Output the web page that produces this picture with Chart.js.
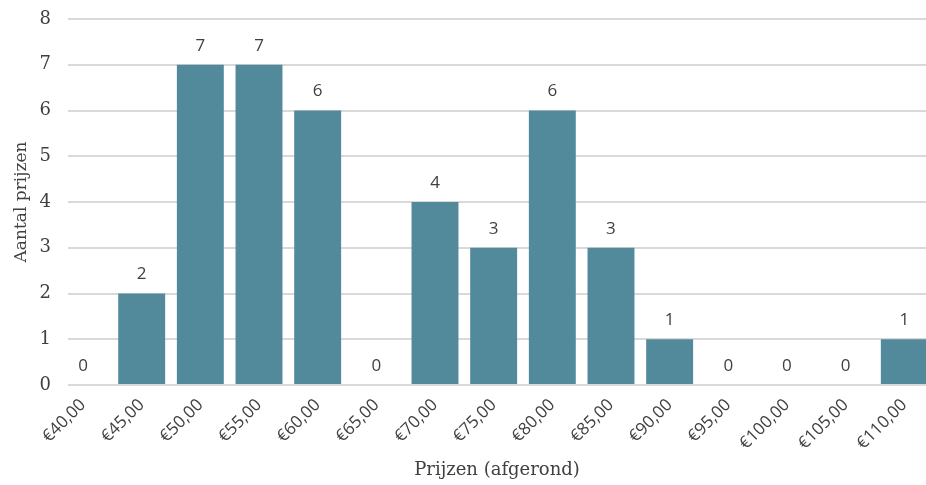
<!DOCTYPE html>
<html>
<head>
<meta charset="utf-8">
<script src="https://cdn.jsdelivr.net/npm/chart.js@4/dist/chart.umd.min.js"></script>
<style>
    html, body { margin: 0; padding: 0; background: #fff; overflow: hidden; }
    #wrap { width: 926px; height: 485px; position: relative; }
</style>
</head>
<body>
<div id="wrap"><canvas id="prices-chart"></canvas></div>
<script>
const priceLabels = ['€40,00', '€45,00', '€50,00', '€55,00', '€60,00', '€65,00', '€70,00', '€75,00',
    '€80,00', '€85,00', '€90,00', '€95,00', '€100,00', '€105,00', '€110,00'];
const priceCounts = [0, 2, 7, 7, 6, 0, 4, 3, 6, 3, 1, 0, 0, 0, 1];
const yTicks = [0, 1, 2, 3, 4, 5, 6, 7, 8];

const barColor = '#528a9b';
const gridColor = '#d9d9d9';
const textColor = '#404040';

// value labels above every bar, zeros included
const valueLabels = {
    id: 'valueLabels',
    afterDatasetsDraw(chart) {
        const { ctx } = chart;
        const meta = chart.getDatasetMeta(0);
        ctx.save();
        ctx.font = '17px "Open Sans"';
        ctx.fillStyle = textColor;
        ctx.textAlign = 'center';
        ctx.textBaseline = 'middle';
        meta.data.forEach((bar, i) => {
            if (bar.x > chart.chartArea.right + 10) return;
            ctx.fillText(String(priceCounts[i]), bar.x, bar.y - 19);
        });
        ctx.restore();
    }
};

new Chart(document.getElementById('prices-chart'), {
    type: 'bar',
    data: {
        datasets: [{
            label: 'Aantal prijzen',
            data: priceCounts.map((v, i) => ({ x: i, y: v })),
            backgroundColor: barColor,
            borderWidth: 0,
            barPercentage: 1,
            categoryPercentage: 0.8
        }]
    },
    options: {
        responsive: true,
        maintainAspectRatio: false,
        animation: false,
        layout: { padding: { top: 19, right: 0, left: 0, bottom: 0 } },
        plugins: {
            legend: { display: false },
            tooltip: { enabled: false }
        },
        scales: {
            x: {
                type: 'linear',
                offset: false,
                min: -0.256,
                max: 14.37,
                grid: { display: false, drawTicks: false, offset: false },
                border: { display: false },
                afterBuildTicks: (scale) => {
                    scale.ticks = priceLabels.map((_, i) => ({ value: i }));
                },
                afterFit: (scale) => {
                    scale.height = 100;
                    scale.paddingLeft = 0;
                    scale.paddingRight = 0;
                },
                ticks: {
                    autoSkip: false,
                    minRotation: 45,
                    maxRotation: 45,
                    padding: 10,
                    color: textColor,
                    font: { family: '"Open Sans"', size: 17 },
                    callback: (v) => priceLabels[v] ?? ''
                },
                title: {
                    display: true,
                    text: 'Prijzen (afgerond)',
                    color: textColor,
                    font: { family: '"DejaVu Serif"', size: 18 },
                    padding: { top: 0, bottom: 4 }
                }
            },
            y: {
                min: 0,
                max: 8,
                grid: { color: gridColor, lineWidth: 2, drawTicks: false },
                border: { display: false },
                afterBuildTicks: (scale) => {
                    scale.ticks = yTicks.map(v => ({ value: v }));
                },
                afterFit: (scale) => {
                    scale.width = 68;
                    scale.paddingTop = 0;
                    scale.paddingBottom = 0;
                },
                ticks: {
                    padding: 17,
                    color: textColor,
                    font: { family: '"DejaVu Serif"', size: 18 }
                },
                title: {
                    display: true,
                    text: 'Aantal prijzen',
                    color: textColor,
                    font: { family: '"DejaVu Serif"', size: 17 },
                    padding: { top: 11, bottom: 0 }
                }
            }
        }
    },
    plugins: [valueLabels]
});
</script>
</body>
</html>
